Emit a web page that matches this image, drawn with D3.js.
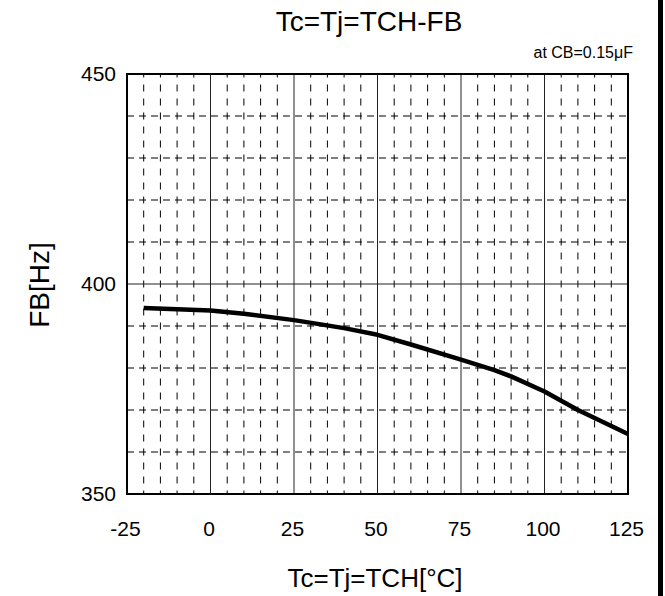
<!DOCTYPE html>
<html><head><meta charset="utf-8">
<script src="https://cdn.jsdelivr.net/npm/d3@7"></script>
<style>body{margin:0;background:#fff}svg{display:block}text{font-family:"Liberation Sans",Arial,sans-serif;fill:#000}</style>
</head><body>
<svg id="c" width="665" height="596"></svg>
<script>
const temps = [-20, 0, 10, 25, 40, 50, 60, 75, 85, 90, 100, 110, 125];
const fb = [394.3, 393.7, 392.9, 391.4, 389.5, 387.9, 385.6, 382.0, 379.5, 378.0, 374.4, 370.0, 364.3];
const xTicks = [-25, 0, 25, 50, 75, 100, 125];
const yTicks = [350, 400, 450];
const xMinor = d3.range(-25, 126, 5);
const yMinor = d3.range(350, 451, 10);

const svg = d3.select("#c");
const L = 127, R = 628, T = 74, B = 494;
const x = d3.scaleLinear().domain([-25, 125]).range([L, R]);
const y = d3.scaleLinear().domain([350, 450]).range([B, T]);

// minor dashed verticals
svg.append("g").selectAll("line").data(xMinor.filter(v => v % 25 !== 0)).join("line")
  .attr("x1", d => x(d)).attr("x2", d => x(d)).attr("y1", T).attr("y2", B)
  .attr("stroke", "#000").attr("stroke-width", 1).attr("stroke-dasharray", "7,7").attr("stroke-dashoffset", 3.5);
// minor dashed horizontals
svg.append("g").selectAll("line").data(yMinor.filter(v => v % 50 !== 0)).join("line")
  .attr("x1", L).attr("x2", R).attr("y1", d => y(d)).attr("y2", d => y(d))
  .attr("stroke", "#000").attr("stroke-width", 1).attr("stroke-dasharray", "7,5");
// major solid
svg.append("g").selectAll("line").data(xTicks.slice(1, -1)).join("line")
  .attr("x1", d => x(d)).attr("x2", d => x(d)).attr("y1", T).attr("y2", B)
  .attr("stroke", "#222").attr("stroke-width", 1);
svg.append("g").selectAll("line").data(yTicks.slice(1, -1)).join("line")
  .attr("x1", L).attr("x2", R).attr("y1", d => y(d)).attr("y2", d => y(d))
  .attr("stroke", "#222").attr("stroke-width", 1);
// border
svg.append("rect").attr("x", L).attr("y", T).attr("width", R - L).attr("height", B - T)
  .attr("fill", "none").attr("stroke", "#000").attr("stroke-width", 2);

// axes via d3
const xAxis = svg.append("g").attr("transform", `translate(0,${B})`)
  .call(d3.axisBottom(x).tickValues(xTicks).tickFormat(d => String(d)).tickSize(0).tickPadding(27));
xAxis.select(".domain").remove();
xAxis.selectAll("text").attr("font-size", 21).attr("font-family", "Liberation Sans, Arial, sans-serif").attr("fill", "#000").attr("dx", -2);
const yAxis = svg.append("g").attr("transform", `translate(${L},0)`)
  .call(d3.axisLeft(y).tickValues(yTicks).tickFormat(d => String(d)).tickSize(0).tickPadding(11));
yAxis.select(".domain").remove();
yAxis.selectAll("text").attr("font-size", 21).attr("font-family", "Liberation Sans, Arial, sans-serif").attr("fill", "#000");

// curve
svg.append("path").datum(temps.map((t, i) => [t, fb[i]]))
  .attr("d", d3.line().x(d => x(d[0])).y(d => y(d[1])))
  .attr("fill", "none").attr("stroke", "#000").attr("stroke-width", 4.5).attr("stroke-linejoin", "round");

// titles
svg.append("text").attr("x", 369).attr("y", 31).attr("text-anchor", "middle").attr("font-size", 28).text("Tc=Tj=TCH-FB");
svg.append("text").attr("x", 633).attr("y", 58).attr("text-anchor", "end").attr("font-size", 16).text("at CB=0.15μF");
svg.append("text").attr("x", 375).attr("y", 587).attr("text-anchor", "middle").attr("font-size", 26).text("Tc=Tj=TCH[°C]");
svg.append("text").attr("transform", "translate(49,285) rotate(-90)").attr("text-anchor", "middle").attr("font-size", 28).text("FB[Hz]");

// right black bar
svg.append("rect").attr("x", 658).attr("y", 0).attr("width", 5).attr("height", 596).attr("fill", "#000");
</script>
</body></html>
